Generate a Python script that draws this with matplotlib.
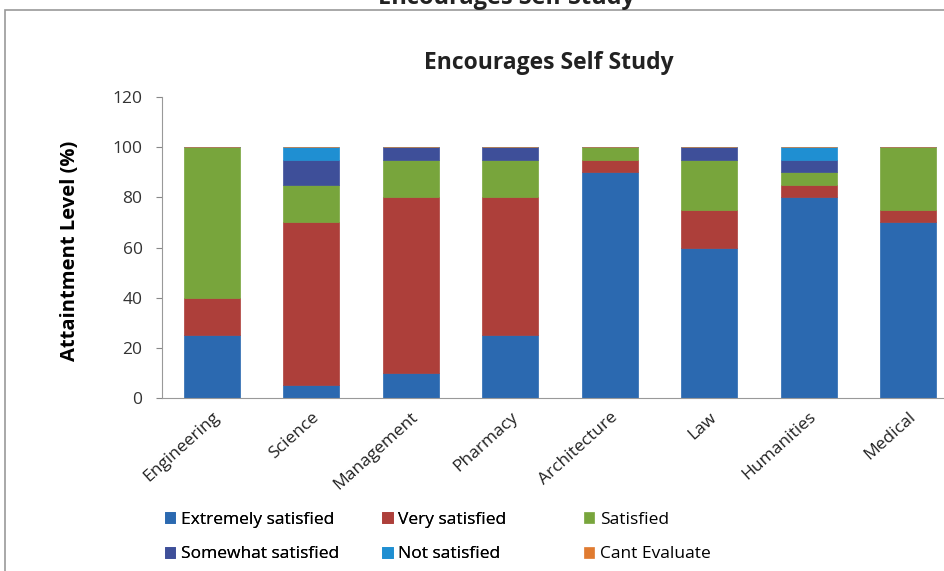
import matplotlib.pyplot as plt
from matplotlib.patches import Rectangle
import numpy as np

plt.rcParams['font.family'] = ['Open Sans', 'DejaVu Sans']

categories = ["Engineering", "Science", "Management", "Pharmacy",
              "Architecture", "Law", "Humanities", "Medical"]
extremely = [25, 5, 10, 25, 90, 60, 80, 70]
very = [15, 65, 70, 55, 5, 15, 5, 5]
satisfied = [60, 15, 15, 15, 5, 20, 5, 25]
somewhat = [0, 10, 5, 5, 0, 5, 5, 0]
not_satisfied = [0, 5, 0, 0, 0, 0, 5, 0]
cant_evaluate = [0, 0, 0, 0, 0, 0, 0, 0]

series = [
    ("Extremely satisfied", extremely, "#2b69b0"),
    ("Very satisfied", very, "#ad3f3a"),
    ("Satisfied", satisfied, "#78a53c"),
    ("Somewhat satisfied", somewhat, "#3e4f99"),
    ("Not satisfied", not_satisfied, "#1f8fd2"),
    ("Cant Evaluate", cant_evaluate, "#e07b30"),
]

fig = plt.figure(figsize=(9.44, 5.71), dpi=100)
ax = fig.add_axes([162 / 944, 173 / 571, 796 / 944, 301 / 571])

x = np.arange(len(categories))
bottom = np.zeros(len(categories))
handles = {}
for name, vals, color in series:
    vals = np.array(vals, dtype=float)
    bars = ax.bar(x, vals, width=0.56, bottom=bottom, color=color,
                  edgecolor=color, linewidth=0.5, label=name)
    handles[name] = bars
    bottom += vals

ax.set_xlim(-0.5, len(categories) - 0.5)
ax.set_ylim(0, 120)
ax.set_yticks(range(0, 121, 20))
ax.tick_params(axis="y", labelsize=12.5, length=4, color="#888888", pad=10,
               labelcolor="#333333")
ax.tick_params(axis="x", length=0, pad=8)
ax.set_xticks(x)
ax.set_xticklabels(categories, rotation=42, ha="right", rotation_mode="anchor",
                   fontsize=12.5, color="#222222")
for s in ["top", "right"]:
    ax.spines[s].set_visible(False)
ax.spines["left"].set_color("#999999")
ax.spines["bottom"].set_color("#999999")
ax.set_ylabel("Attaintment Level (%)", fontsize=14.5, fontweight="bold")
ax.yaxis.set_label_coords(-0.103, 0.49)
ax.set_title("Encourages Self Study", fontsize=16.5, fontweight="bold", pad=20,
             x=0.486, color="#222222")

# Outer frame of the chart area (cut off on the right and bottom)
fig.add_artist(Rectangle((5 / 944, -0.1), 1.2, 1 - 10 / 571 + 0.1,
                         transform=fig.transFigure, fill=False,
                         edgecolor="#999999", linewidth=1.2))
# Cropped title of the page above the chart
fig.text(506 / 944, 1 - 4 / 571, "Encourages Self Study", ha="center",
         va="baseline", fontsize=17, fontweight="bold", color="#222222")

kw = dict(frameon=False, fontsize=12.5, handlelength=0.6, handleheight=0.6,
          handletextpad=0.3, labelspacing=1.05, borderaxespad=0)
left_names = ["Extremely satisfied", "Somewhat satisfied",
              "Very satisfied", "Not satisfied"]
leg1 = fig.legend([handles[n] for n in left_names], left_names, ncol=2,
                  loc="upper left", bbox_to_anchor=(158 / 944, 1 - 505 / 571),
                  columnspacing=2.5, **kw)
fig.add_artist(leg1)
right_names = ["Satisfied", "Cant Evaluate"]
fig.legend([handles[n] for n in right_names], right_names, ncol=1,
           loc="upper left", bbox_to_anchor=(577 / 944, 1 - 505 / 571), **kw)

fig.savefig("out.png", dpi=100)
